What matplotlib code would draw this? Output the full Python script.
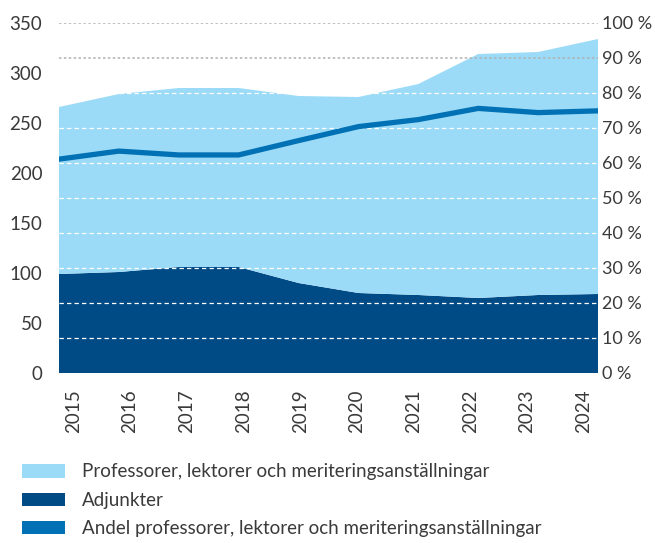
import matplotlib
matplotlib.use("Agg")
import matplotlib.pyplot as plt
from matplotlib.patches import Patch
import numpy as np

# ---- data ----
years = [2015, 2016, 2017, 2018, 2019, 2020, 2021, 2022, 2023, 2024]
adjunkter = [99, 101, 106, 106, 90, 80, 78, 75, 78, 79]
professorer = [167, 178, 179, 179, 187, 196, 211, 244, 243, 255]
andel = [61.1, 63.4, 62.3, 62.3, 66.4, 70.4, 72.4, 75.6, 74.4, 74.9]
left_ticks = [0, 50, 100, 150, 200, 250, 300, 350]
right_ticks = [0, 10, 20, 30, 40, 50, 60, 70, 80, 90, 100]
labels = ["Professorer, lektorer och meriteringsanställningar",
          "Adjunkter",
          "Andel professorer, lektorer och meriteringsanställningar"]

c_light = "#9CDBF7"
c_dark = "#004A86"
c_line = "#0071B4"
c_text = "#3a3a3a"

plt.rcParams['font.family'] = ['Lato', 'DejaVu Sans']
plt.rcParams['font.weight'] = 'normal'

W, H = 655, 543
fig = plt.figure(figsize=(W / 100, H / 100), dpi=100)
ax = fig.add_axes([59 / W, (H - 373) / H, 539 / W, 350 / H])
ax2 = ax.twinx()

ax.stackplot(years, adjunkter, professorer, colors=[c_dark, c_light],
             linewidth=0, zorder=1)
ax.set_xlim(years[0], years[-1])
ax.set_ylim(0, 350)
ax2.set_ylim(0, 100)

# gridlines on right-axis ticks
for t in right_ticks[1:]:
    if t >= 90:
        ax2.axhline(t, color="#b0b0b0", lw=1.1, ls=(0, (1.6, 1.6)), zorder=2)
    else:
        ax2.axhline(t, color="white", lw=0.9, ls=(0, (3.5, 2.5)), zorder=2)

ax2.plot(years, andel, color=c_line, lw=3.8, solid_capstyle='round',
         solid_joinstyle='round', zorder=3)

for a in (ax, ax2):
    for s in a.spines.values():
        s.set_visible(False)
    a.tick_params(length=0, colors=c_text, labelsize=13.5)

ax.set_yticks(left_ticks)
ax.set_yticklabels([str(v) for v in left_ticks])
ax.tick_params(axis='y', pad=12)
ax2.set_yticks(right_ticks)
ax2.set_yticklabels([f"{v} %" for v in right_ticks], fontsize=13)
ax2.tick_params(axis='y', pad=3)

# category labels sit slightly inside the area span
xt = np.linspace(years[0] + 0.24, years[-1] - 0.24, len(years))
ax.set_xticks(xt)
ax.set_xticklabels([str(y) for y in years], rotation=90, va='top', ha='center')
ax.tick_params(axis='x', pad=12)

handles = [Patch(facecolor=c_light), Patch(facecolor=c_dark), Patch(facecolor=c_line)]
leg = fig.legend(handles, labels, loc='upper left',
                 bbox_to_anchor=(14 / W, 1 - 456 / H), frameon=False,
                 handlelength=2.3, handleheight=0.7, handletextpad=0.9,
                 labelspacing=0.6, fontsize=13.5, labelcolor=c_text,
                 borderaxespad=0)

fig.savefig("out.png", dpi=100)
